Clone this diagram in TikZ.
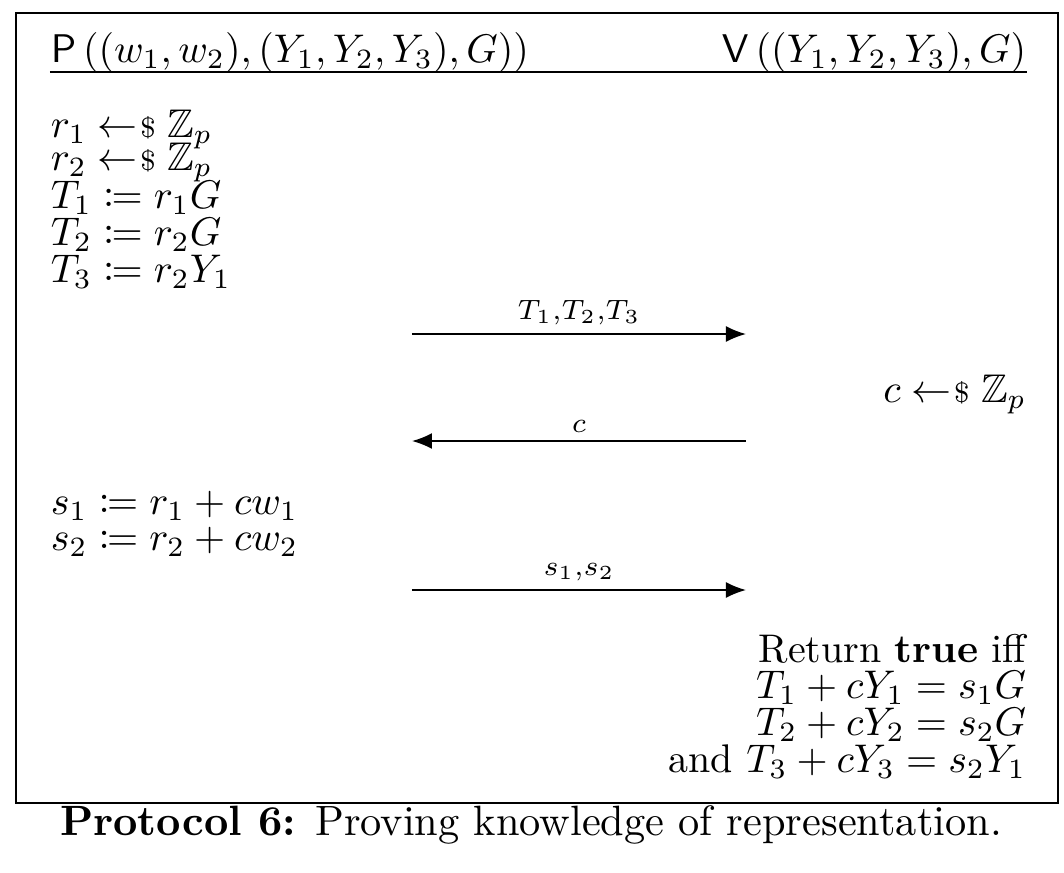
\documentclass[tikz,border=0pt]{standalone}
\usepackage{amsmath,amssymb,mathtools}
\usetikzlibrary{arrows.meta}
\newcommand{\smp}{\mathrel{\leftarrow\mkern-4mu{\scriptstyle\$}}}
\begin{document}
\begin{tikzpicture}[x=0.25pt,y=-0.25pt,
  prv/.style={anchor=base west,inner sep=0pt},
  vrf/.style={anchor=base east,inner sep=0pt},
  msg/.style={-{Latex[length=5pt,width=4pt]},line width=0.45pt},
  lbl/.style={above,inner sep=2pt}]
\useasboundingbox (0,0) rectangle (1064,872);
\draw[line width=0.5pt] (16,13) rectangle (1058,803);
\node[prv] (hp) at (50,62) {$\mathsf{P}\left((w_1,w_2),(Y_1,Y_2,Y_3),G)\right)$};
\node[vrf] (hv) at (1027,62) {$\mathsf{V}\left((Y_1,Y_2,Y_3),G\right)$};
\coordinate (ul) at (50,72);
\coordinate (ur) at (1027,72);
\draw[line width=0.45pt] (ul) -- (ur);
\node[prv] (r1) at (50,137) {$r_1 \smp \mathbb{Z}_p$};
\node[prv] (r2) at (50,170) {$r_2 \smp \mathbb{Z}_p$};
\node[prv] (t1) at (50,208) {$T_1 \coloneqq r_1G$};
\node[prv] (t2) at (50,245) {$T_2 \coloneqq r_2G$};
\node[prv] (t3) at (50,282) {$T_3 \coloneqq r_2Y_1$};
\coordinate (a1l) at (412,334);
\coordinate (a1r) at (746,334);
\draw[msg] (a1l) -- node[lbl] {$\scriptstyle T_1,T_2,T_3$} (a1r);
\node[vrf] (ch) at (1027,402) {$c \smp \mathbb{Z}_p$};
\coordinate (a2l) at (412,441);
\coordinate (a2r) at (746,441);
\draw[msg] (a2r) -- node[lbl] {$\scriptstyle c$} (a2l);
\node[prv] (s1) at (50,514) {$s_1 \coloneqq r_1 + cw_1$};
\node[prv] (s2) at (50,550) {$s_2 \coloneqq r_2 + cw_2$};
\coordinate (a3l) at (412,590);
\coordinate (a3r) at (746,590);
\draw[msg] (a3l) -- node[lbl] {$\scriptstyle s_1,s_2$} (a3r);
\node[vrf] (ret) at (1027,662) {Return \textbf{true} iff};
\node[vrf] (e1) at (1027,698) {$T_1 + cY_1 = s_1G$};
\node[vrf] (e2) at (1027,735) {$T_2 + cY_2 = s_2G$};
\node[vrf] (e3) at (1027,772) {and $T_3 + cY_3 = s_2Y_1$};
\node[anchor=base,inner sep=0pt,font=\fontsize{10.6}{13}\selectfont] (cap) at (531,835) {\textbf{Protocol 6:} Proving knowledge of representation.};
\end{tikzpicture}
\end{document}
